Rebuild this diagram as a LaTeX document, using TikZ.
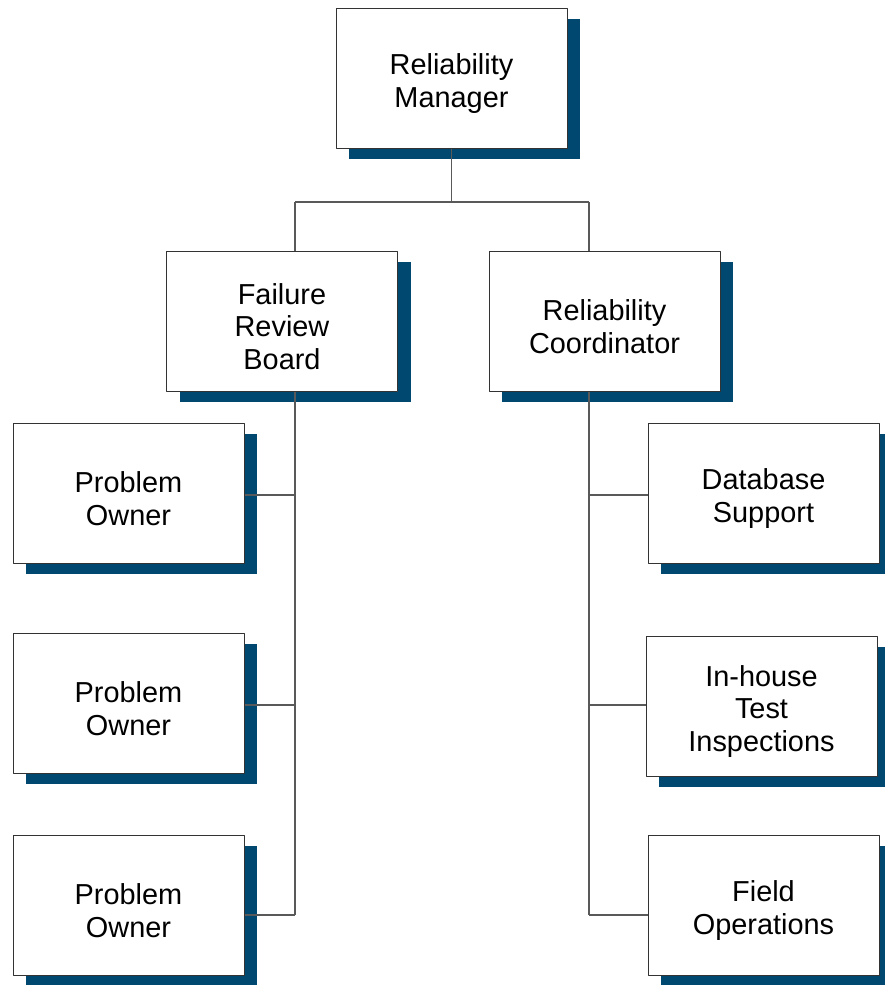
\documentclass[tikz,border=0pt]{standalone}
\usepackage{fontspec}
\setmainfont{Liberation Sans}
\usepackage{tikz}
\usetikzlibrary{shadows}
\definecolor{shadowblue}{RGB}{0,72,112}
\newcommand{\toprule}{\rule{0pt}{30bp}}

\begin{document}
\begin{tikzpicture}[line join=bevel,
  post/.style={draw=black!80,fill=white,rectangle,minimum width=231bp,minimum height=140bp,
    inner sep=0pt,align=center,font=\fontsize{29}{32.5}\selectfont,
    drop shadow={shadow xshift=13bp,shadow yshift=-10bp,fill=shadowblue,opacity=1}},
  wire/.style={draw=black!65,line width=1.2bp}]
\pgfsetlinewidth{1bp}
\useasboundingbox (0bp,0bp) rectangle (885bp,985bp);
%%
\node (RM) at (451.5bp,906.0bp) [post] {\toprule Reliability\\Manager};
  \node (FRB) at (282.0bp,663.0bp) [post] {\toprule Failure\\Review\\Board};
  \node (RC) at (604.5bp,663.0bp) [post] {\toprule Reliability\\Coordinator};
  %left column
  \node (PO1) at (128.5bp,491.0bp) [post] {\toprule Problem\\Owner};
  \node (PO2) at (128.5bp,281.0bp) [post] {\toprule Problem\\Owner};
  \node (PO3) at (128.5bp,79.0bp) [post] {\toprule Problem\\Owner};
  %right column
  \node (DS) at (763.5bp,491.0bp) [post] {\toprule Database\\Support};
  \node (ITI) at (761.5bp,278.0bp) [post] {\toprule In-house\\Test\\Inspections};
  \node (FO) at (763.5bp,79.0bp) [post] {\toprule Field\\Operations};
%%
\coordinate (busL) at (295.0bp,783.0bp);
  \coordinate (busR) at (589.0bp,783.0bp);
  \coordinate (fL1) at (295.0bp,490.0bp);
  \coordinate (fL2) at (295.0bp,280.0bp);
  \coordinate (fL3) at (295.0bp,70.0bp);
  \coordinate (cR1) at (589.0bp,490.0bp);
  \coordinate (cR2) at (589.0bp,280.0bp);
  \coordinate (cR3) at (589.0bp,70.0bp);
  \draw [wire] (RM.south) -- (RM.south |- busL);
  \draw [wire] (busL) -- (busR);
  \draw [wire] (busL) -- (busL |- FRB.north);
  \draw [wire] (busR) -- (busR |- RC.north);
  \draw [wire] (fL1 |- FRB.south) -- (fL3);
  \draw [wire] (cR1 |- RC.south) -- (cR3);
  \draw [wire] (fL1) -- (fL1 -| PO1.east);
  \draw [wire] (fL2) -- (fL2 -| PO2.east);
  \draw [wire] (fL3) -- (fL3 -| PO3.east);
  \draw [wire] (cR1) -- (cR1 -| DS.west);
  \draw [wire] (cR2) -- (cR2 -| ITI.west);
  \draw [wire] (cR3) -- (cR3 -| FO.west);
%
\end{tikzpicture}
\end{document}
